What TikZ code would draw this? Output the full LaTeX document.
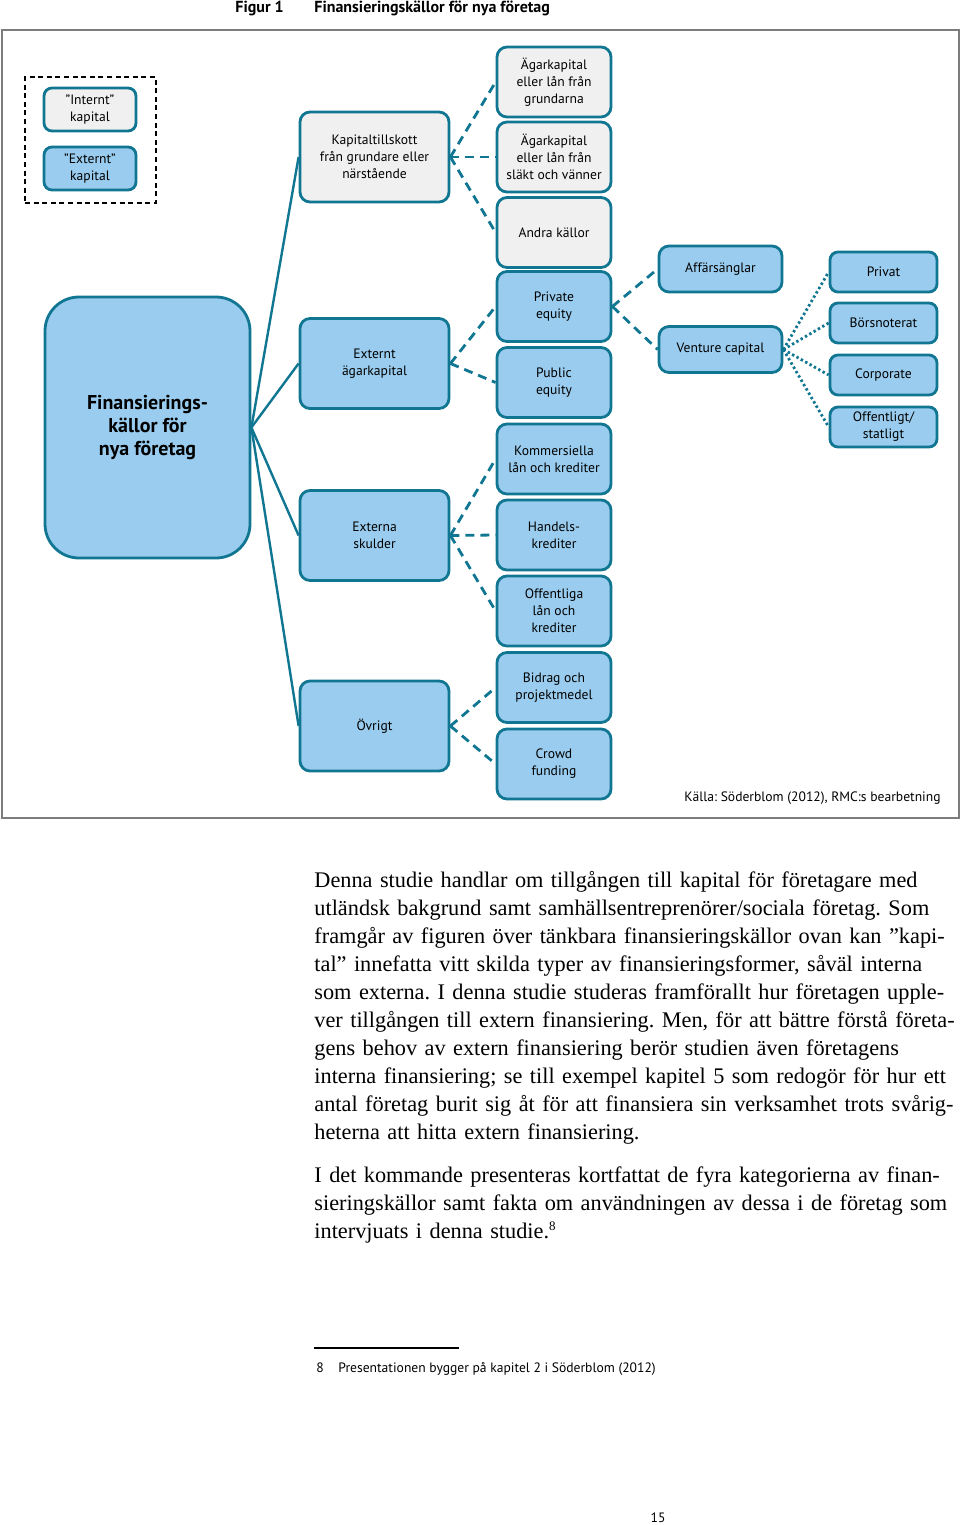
\documentclass[tikz,border=0pt]{standalone}
\usepackage{fontspec}
\setmainfont{Liberation Serif}
\newfontfamily\diagfont{PT Sans}
\frenchspacing

\definecolor{linkteal}{RGB}{16,118,145}
\definecolor{bluefill}{RGB}{153,204,238}
\definecolor{greyfill}{RGB}{240,240,240}
\definecolor{framegrey}{RGB}{125,125,125}

\tikzset{
  box/.style={draw=linkteal, line width=1.4pt, rounded corners=5pt, align=center,
    inner sep=1pt, font=\diagfont\fontsize{6.8}{8.5}\selectfont},
  greybox/.style={box, fill=greyfill},
  bluebox/.style={box, fill=bluefill},
  colA/.style={minimum width=74.5pt, minimum height=45pt},
  colB/.style={minimum width=57pt, minimum height=35pt},
  colC/.style={minimum width=61.5pt, minimum height=23pt},
  colD/.style={minimum width=53.5pt, minimum height=20pt, rounded corners=4pt},
  keybox/.style={minimum width=46pt, minimum height=21.5pt, rounded corners=4pt},
  trunk/.style={draw=linkteal, line width=1.2pt},
  branch/.style={draw=linkteal, line width=1.4pt, dash pattern=on 4.5pt off 3pt},
  twig/.style={draw=linkteal, line width=1.4pt, dash pattern=on 1.2pt off 1.3pt},
  caption/.style={font=\diagfont\fontsize{6.8}{8.5}\selectfont, inner sep=0pt},
  bodytext/.style={font=\fontsize{11.15}{14}\selectfont, inner sep=0pt, align=left, text width=345pt}
}

\begin{document}
\begin{tikzpicture}[x=0.5pt, y=-0.5pt]
  \useasboundingbox (0,0) rectangle (960,1525);
  % title and frame
  \node[caption, anchor=base west, font=\diagfont\bfseries\fontsize{8}{9}\selectfont] (fignum) at (235,13) {Figur 1};
  \node[caption, anchor=base west, font=\diagfont\bfseries\fontsize{8}{9}\selectfont] (figtitle) at (314,13) {Finansieringskällor för nya företag};
  \draw[framegrey, line width=0.7pt] (2,30) rectangle (959,818);

  % key
  \node[draw=black, line width=0.6pt, dash pattern=on 2.5pt off 1.8pt, minimum width=65.5pt, minimum height=63pt] (key) at (90.5,140) {};
  \node[greybox, keybox] (intern) at (90,109.5) {”Internt”\\kapital};
  \node[bluebox, keybox] (extern) at (90,168.5) {”Externt”\\kapital};

  % root
  \node[bluebox, minimum width=102.5pt, minimum height=130.5pt, rounded corners=17pt,
    font=\diagfont\bfseries\fontsize{10}{11.5}\selectfont] (root) at (147.5,427.5) {Finansierings-\\källor för\\nya företag};

  % first level
  \node[greybox, colA] (tillskott) at (374.5,157) {Kapitaltillskott\\från grundare eller\\närstående};
  \node[bluebox, colA] (agarkap) at (374.5,363.5) {Externt\\ägarkapital};
  \node[bluebox, colA] (skulder) at (374.5,535.5) {Externa\\skulder};
  \node[bluebox, colA] (ovrigt) at (374.5,726) {Övrigt};

  % second level
  \node[greybox, colB] (grundarna) at (554,82) {Ägarkapital\\eller lån från\\grundarna};
  \node[greybox, colB] (slakt) at (554,157) {Ägarkapital\\eller lån från\\släkt och vänner};
  \node[greybox, colB] (andra) at (554,232.5) {Andra källor};
  \node[bluebox, colB] (private) at (554,306.5) {Private\\equity};
  \node[bluebox, colB] (public) at (554,382.5) {Public\\equity};
  \node[bluebox, colB] (kommers) at (554,459) {Kommersiella\\lån och krediter};
  \node[bluebox, colB] (handel) at (554,535) {Handels-\\krediter};
  \node[bluebox, colB] (offlan) at (554,611) {Offentliga\\lån och\\krediter};
  \node[bluebox, colB] (bidrag) at (554,687.5) {Bidrag och\\projektmedel};
  \node[bluebox, colB] (crowd) at (554,764) {Crowd\\funding};

  % third level
  \node[bluebox, colC] (anglar) at (720.5,269) {Affärsänglar};
  \node[bluebox, colC] (venture) at (720.5,349.5) {Venture capital};

  % fourth level
  \node[bluebox, colD] (privat) at (883.5,272) {Privat};
  \node[bluebox, colD] (borsen) at (883.5,323) {Börsnoterat};
  \node[bluebox, colD] (corporate) at (883.5,375) {Corporate};
  \node[bluebox, colD] (statligt) at (883.5,427) {Offentligt/\\statligt};

  \node[caption, anchor=base east] (kalla) at (941,801) {Källa: Söderblom (2012), RMC:s bearbetning};

  % links
  \draw[trunk] (root.east) -- (tillskott.west);
  \draw[trunk] (root.east) -- (agarkap.west);
  \draw[trunk] (root.east) -- (skulder.west);
  \draw[trunk] (root.east) -- (ovrigt.west);
  \draw[branch] (tillskott.east) -- (grundarna.west);
  \draw[branch] (tillskott.east) -- (slakt.west);
  \draw[branch] (tillskott.east) -- (andra.west);
  \draw[branch] (agarkap.east) -- (private.west);
  \draw[branch] (agarkap.east) -- (public.west);
  \draw[branch] (skulder.east) -- (kommers.west);
  \draw[branch] (skulder.east) -- (handel.west);
  \draw[branch] (skulder.east) -- (offlan.west);
  \draw[branch] (ovrigt.east) -- (bidrag.west);
  \draw[branch] (ovrigt.east) -- (crowd.west);
  \draw[branch] (private.east) -- (anglar.west);
  \draw[branch] (private.east) -- (venture.west);
  \draw[twig] (venture.east) -- (privat.west);
  \draw[twig] (venture.east) -- (borsen.west);
  \draw[twig] (venture.east) -- (corporate.west);
  \draw[twig] (venture.east) -- (statligt.west);

  % running text
  \node[bodytext, anchor=base west] (para1) at (314,887) {Denna studie handlar om tillgången till kapital för företagare med\\
utländsk bakgrund samt samhällsentreprenörer/sociala företag. Som\\
framgår av figuren över tänkbara finansieringskällor ovan kan ”kapi-\\
tal” innefatta vitt skilda typer av finansieringsformer, såväl interna\\
som externa. I denna studie studeras framförallt hur företagen upple-\\
ver tillgången till extern finansiering. Men, för att bättre förstå företa-\\
gens behov av extern finansiering berör studien även företagens\\
interna finansiering; se till exempel kapitel 5 som redogör för hur ett\\
antal företag burit sig åt för att finansiera sin verksamhet trots svårig-\\
heterna att hitta extern finansiering.};
  \node[bodytext, anchor=base west] (para2) at (314,1182) {I det kommande presenteras kortfattat de fyra kategorierna av finan-\\
sieringskällor samt fakta om användningen av dessa i de företag som\\
intervjuats i denna studie.\raisebox{4pt}{\fontsize{6.5}{6.5}\selectfont 8}};

  % footnote
  \draw[line width=0.6pt] (314,1348) -- (459,1348);
  \node[caption, anchor=base west] (fnmark) at (316,1372) {8};
  \node[caption, anchor=base west] (fntext) at (338,1372) {Presentationen bygger på kapitel 2 i Söderblom (2012)};
  \node[caption, anchor=base] (pagenum) at (658,1522) {15};
\end{tikzpicture}
\end{document}
